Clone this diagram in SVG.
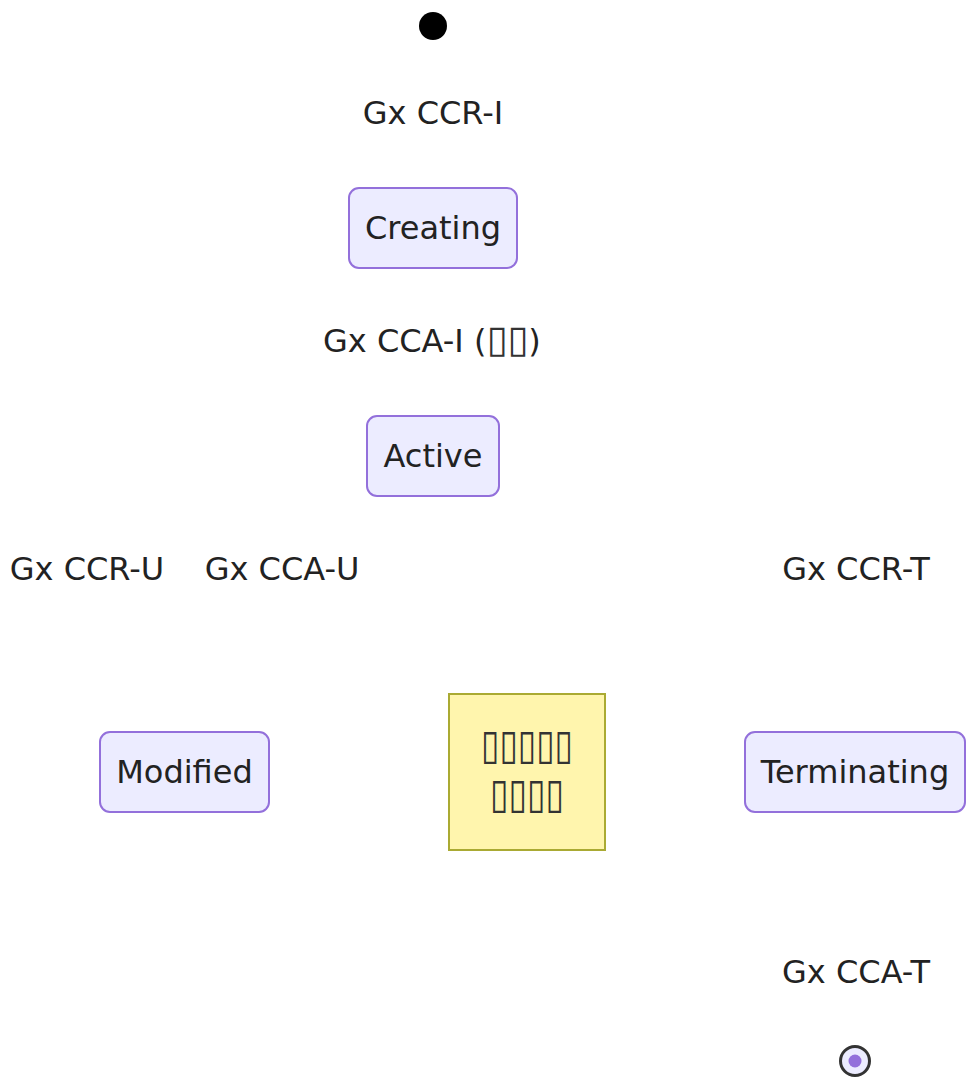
<svg xmlns="http://www.w3.org/2000/svg" width="966" height="1082" viewBox="0 0 966 1082">
<style>
text{font-family:"DejaVu Sans","Liberation Sans","Noto Sans CJK SC",sans-serif;font-size:32px;fill:#222;text-anchor:middle}
.tofu{font-size:42px;fill:#333}
.tofu2{font-size:38px;fill:#333}
.state{fill:#ECECFF;stroke:#9370DB;stroke-width:2}
.note{fill:#fff5ad;stroke:#aaaa33;stroke-width:2}
</style>
<rect width="966" height="1082" fill="#ffffff"/>
<g id="connectors">
<text x="433" y="124">Gx CCR-I</text>
<text x="323" y="352" style="text-anchor:start">Gx CCA-I (<tspan class="tofu2">▯▯</tspan>)</text>
<text x="87" y="580">Gx CCR-U</text>
<text x="282" y="580">Gx CCA-U</text>
<text x="856" y="580">Gx CCR-T</text>
<text x="856" y="983">Gx CCA-T</text>
</g>
<g id="start"><circle cx="433" cy="26" r="14" fill="#000"/></g>
<g id="Creating"><rect class="state" x="349" y="188" width="168" height="80" rx="10"/><text x="433" y="239">Creating</text></g>
<g id="Active"><rect class="state" x="367" y="416" width="132" height="80" rx="10"/><text x="433" y="467">Active</text></g>
<g id="Modified"><rect class="state" x="100" y="732" width="169" height="80" rx="10"/><text x="184.5" y="783">Modified</text></g>
<g id="Terminating"><rect class="state" x="745" y="732" width="220" height="80" rx="10"/><text x="855" y="783">Terminating</text></g>
<g id="note"><rect class="note" x="449" y="694" width="156" height="156"/><text class="tofu" x="527" y="759" textLength="92" lengthAdjust="spacingAndGlyphs">▯▯▯▯▯</text><text class="tofu" x="527" y="808" textLength="74" lengthAdjust="spacingAndGlyphs">▯▯▯▯</text></g>
<g id="end"><circle cx="855" cy="1061" r="14.5" fill="#ECECFF" stroke="#333" stroke-width="3"/><circle cx="855" cy="1061" r="6.5" fill="#9370DB"/></g>
</svg>
